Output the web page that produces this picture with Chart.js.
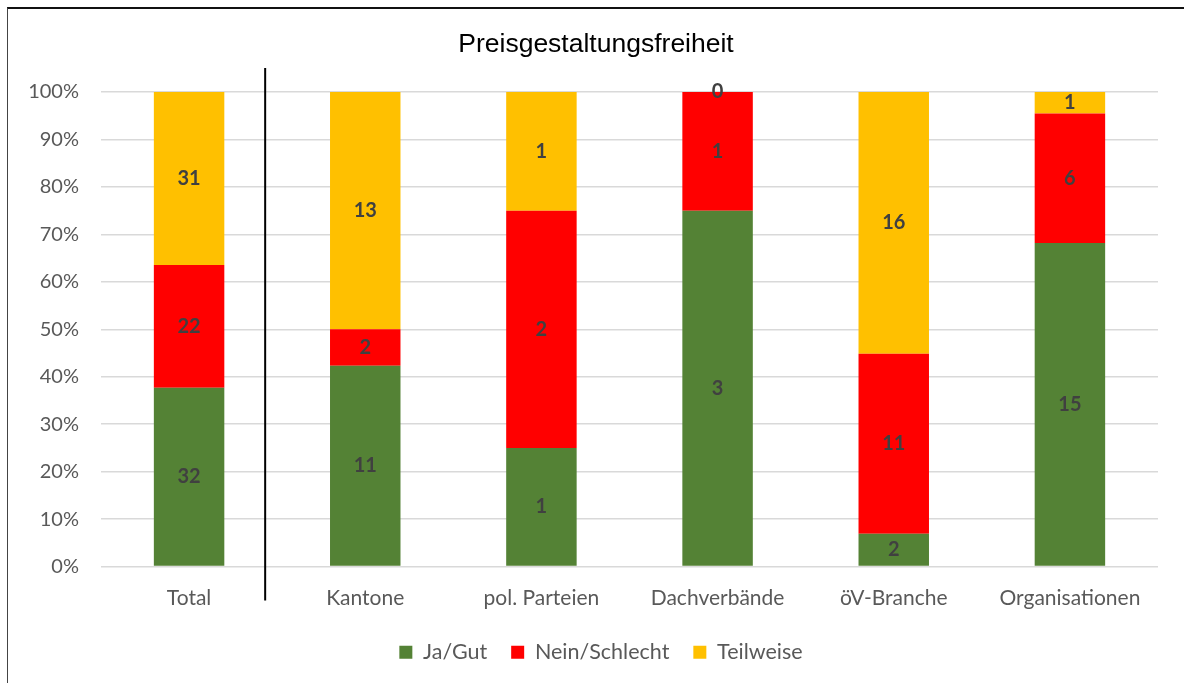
<!DOCTYPE html>
<html>
<head>
<meta charset="utf-8">
<script src="https://cdn.jsdelivr.net/npm/chart.js@4"></script>
<style>
  body { margin: 0; background: #fff; }
  #wrap { position: relative; width: 1184px; height: 683px; overflow: hidden; }
  #frame {
    position: absolute; left: 7px; top: 7px; width: 1300px; height: 800px;
    border-top: 2px solid #111; border-left: 1px solid #444; pointer-events: none;
  }
</style>
</head>
<body>
<div id="wrap">
  <canvas id="chart" width="1184" height="683"></canvas>
  <div id="frame"></div>
</div>
<script>
// ================= DATA =================
const categories = ['Total', 'Kantone', 'pol. Parteien', 'Dachverbände', 'öV-Branche', 'Organisationen']
const jaGut = [32, 11, 1, 3, 2, 15]
const neinSchlecht = [22, 2, 2, 1, 11, 6]
const teilweise = [31, 13, 1, 0, 16, 1]
const yTicks = [0, 10, 20, 30, 40, 50, 60, 70, 80, 90, 100]
const chartTitle = 'Preisgestaltungsfreiheit'

const totals = categories.map((c, i) => jaGut[i] + neinSchlecht[i] + teilweise[i])
const pct = arr => arr.map((v, i) => v / totals[i] * 100)

const series = [
  { label: 'Ja/Gut', counts: jaGut, color: '#548235' },
  { label: 'Nein/Schlecht', counts: neinSchlecht, color: '#FF0000' },
  { label: 'Teilweise', counts: teilweise, color: '#FFC000' }
]

// ================= PLUGINS =================
// title centred on the whole frame, not just the plot
const frameTitle = {
  id: 'frameTitle',
  afterDraw(chart) {
    const ctx = chart.ctx
    ctx.save()
    ctx.font = '26.5px "Liberation Sans"'
    ctx.fillStyle = '#000'
    ctx.textAlign = 'center'
    ctx.textBaseline = 'alphabetic'
    ctx.fillText(chartTitle, (8 + chart.width) / 2, 52)
    ctx.restore()
  }
}

// legend sits a bit right of the plot centre in the original
const legendShift = {
  id: 'legendShift',
  afterLayout(chart) {
    chart.legend.left += 17
    chart.legend.right += 17
  }
}

// count labels in the middle of each segment
const countLabels = {
  id: 'countLabels',
  afterDatasetsDraw(chart) {
    const ctx = chart.ctx
    ctx.save()
    ctx.font = 'bold 20px Lato'
    ctx.fillStyle = '#404040'
    ctx.textAlign = 'center'
    ctx.textBaseline = 'middle'
    chart.data.datasets.forEach((ds, di) => {
      chart.getDatasetMeta(di).data.forEach((bar, i) => {
        ctx.fillText(String(ds.counts[i]), bar.x, (bar.y + bar.base) / 2)
      })
    })
    ctx.restore()
  }
}

// black separator between Total and the groups
const separator = {
  id: 'separator',
  afterDraw(chart) {
    const x0 = chart.scales.x.getPixelForValue(0)
    const x1 = chart.scales.x.getPixelForValue(1)
    const x = (x0 + x1) / 2 - 12
    const area = chart.chartArea
    const ctx = chart.ctx
    ctx.save()
    ctx.strokeStyle = '#000'
    ctx.lineWidth = 2
    ctx.beginPath()
    ctx.moveTo(x, area.top - 24)
    ctx.lineTo(x, area.bottom + 34)
    ctx.stroke()
    ctx.restore()
  }
}

// ================= CHART =================
new Chart(document.getElementById('chart'), {
  type: 'bar',
  data: {
    labels: categories,
    datasets: series.map(s => ({
      label: s.label,
      data: pct(s.counts),
      counts: s.counts,
      backgroundColor: s.color,
      borderWidth: 0,
      categoryPercentage: 1,
      barPercentage: 0.4
    }))
  },
  options: {
    responsive: false,
    animation: false,
    layout: { padding: { left: 10, right: 26, top: 92, bottom: 10 } },
    plugins: {
      title: { display: false },
      legend: {
        position: 'bottom',
        labels: {
          color: '#595959',
          font: { family: 'Lato', size: 21.5 },
          boxWidth: 13,
          boxHeight: 13,
          padding: 24
        }
      },
      tooltip: { enabled: false }
    },
    scales: {
      x: {
        stacked: true,
        grid: { display: false },
        border: { display: false },
        afterFit: scale => { scale.height = 51 },
        ticks: { color: '#595959', font: { family: 'Lato', size: 21 }, padding: 11 }
      },
      y: {
        stacked: true,
        min: 0,
        max: 100,
        afterBuildTicks: scale => { scale.ticks = yTicks.map(v => ({ value: v })) },
        afterFit: scale => { scale.width = 91 },
        grid: { color: '#d9d9d9', lineWidth: 1.5, drawTicks: false },
        border: { display: false },
        ticks: {
          color: '#595959',
          font: { family: 'Lato', size: 20 },
          padding: 22,
          callback: v => v + '%'
        }
      }
    }
  },
  plugins: [countLabels, separator, frameTitle, legendShift]
})
</script>
</body>
</html>
